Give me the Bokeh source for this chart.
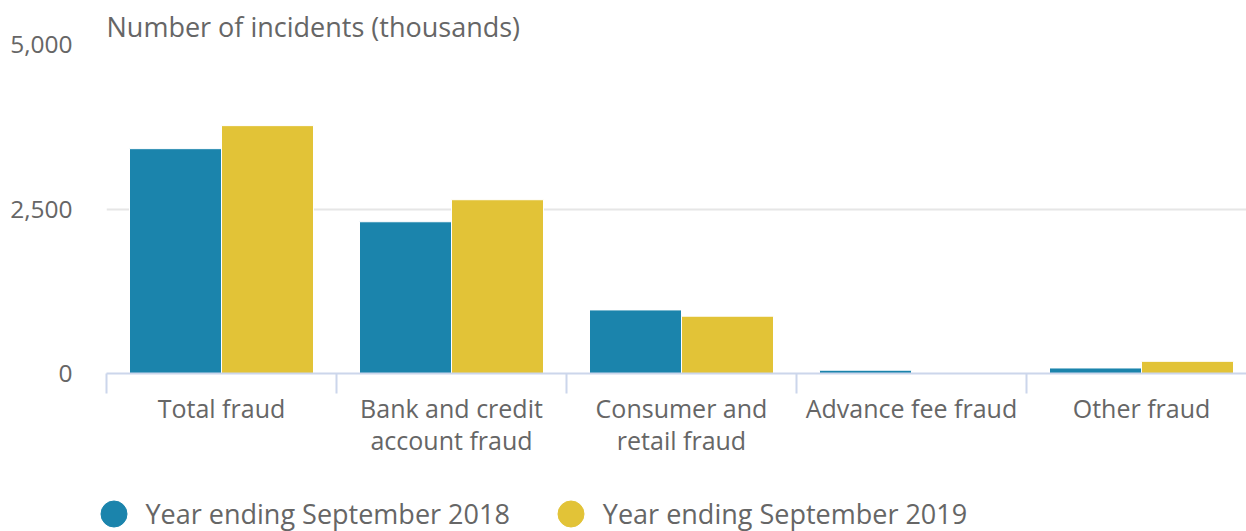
from bokeh.plotting import figure
from bokeh.layouts import column, row
from bokeh.models import (Range1d, FixedTicker, NumeralTickFormatter, Title,
                          Legend, LegendItem, ColumnDataSource)
from bokeh.embed import file_html
from bokeh.resources import INLINE

categories = ["Total fraud", "Bank and credit\naccount fraud", "Consumer and\nretail fraud",
              "Advance fee fraud", "Other fraud"]
series_names = ["Year ending September 2018", "Year ending September 2019"]
values_2018 = [3417, 2306, 966, 50, 84]
values_2019 = [3767, 2641, 871, 0, 185]
y_ticks = [0, 2500, 5000]
title_text = "Number of incidents (thousands)"

BLUE = "#1B84AC"
YELLOW = "#E2C337"
GREY = "#666666"
FONT = "Open Sans"

n = len(categories)
centers = [i + 0.5 for i in range(n)]

p = figure(width=1246, height=466, output_backend="svg", toolbar_location=None,
           x_range=Range1d(0, 1140 / 230), y_range=Range1d(0, 5000),
           min_border_left=106, min_border_right=0, min_border_top=44, min_border_bottom=93)
p.outline_line_color = None
p.background_fill_color = "white"

p.title = Title(text=title_text, align="left", offset=0, standoff=0,
                text_font=FONT, text_font_size="27px", text_color=GREY,
                text_font_style="normal")

src = ColumnDataSource(dict(
    x18=[c - 0.2 for c in centers], x19=[c + 0.2 for c in centers],
    v18=values_2018, v19=values_2019))
p.vbar(x="x18", top="v18", width=0.4, bottom=0, source=src,
       fill_color=BLUE, line_color="white", line_width=1)
p.vbar(x="x19", top="v19", width=0.4, bottom=0, source=src,
       fill_color=YELLOW, line_color="white", line_width=1)

# x axis
xa = p.xaxis[0]
xa.ticker = FixedTicker(ticks=centers, minor_ticks=list(range(n + 1)))
xa.major_label_overrides = {c: lab for c, lab in zip(centers, categories)}
xa.major_tick_line_color = None
xa.major_tick_out = 0
xa.major_tick_in = 0
xa.minor_tick_line_color = "#ccd6eb"
xa.minor_tick_line_width = 2
xa.minor_tick_out = 20
xa.minor_tick_in = 0
xa.axis_line_color = "#ccd6eb"
xa.axis_line_width = 2
xa.major_label_text_font = FONT
xa.major_label_text_font_size = "25px"
xa.major_label_text_color = GREY
xa.major_label_text_line_height = 0.97
xa.major_label_standoff = -3

# y axis
ya = p.yaxis[0]
ya.ticker = FixedTicker(ticks=y_ticks)
ya.formatter = NumeralTickFormatter(format="0,0")
ya.axis_line_color = None
ya.major_tick_line_color = None
ya.minor_tick_line_color = None
ya.major_tick_out = 0
ya.major_tick_in = 0
ya.major_label_text_font = FONT
ya.major_label_text_font_size = "24.5px"
ya.major_label_text_color = GREY
ya.major_label_standoff = 34

p.xgrid.grid_line_color = None
p.ygrid.ticker = FixedTicker(ticks=y_ticks)
p.ygrid.grid_line_color = "#e6e6e6"
p.ygrid.grid_line_width = 2

# separate strip for the legend (circle markers)
lg = figure(width=1246, height=65, output_backend="svg", toolbar_location=None,
            x_range=Range1d(0, 1), y_range=Range1d(0, 1),
            min_border=0, min_border_left=0, min_border_right=0,
            min_border_top=0, min_border_bottom=0,
            x_axis_location=None, y_axis_location=None)
lg.outline_line_color = None
lg.xgrid.visible = False
lg.ygrid.visible = False
r18 = lg.scatter(x=[-10], y=[-10], marker="circle", size=10, fill_color=BLUE, line_color=BLUE)
r19 = lg.scatter(x=[-10], y=[-10], marker="circle", size=10, fill_color=YELLOW, line_color=YELLOW)
legend = Legend(items=[LegendItem(label=series_names[0], renderers=[r18]),
                       LegendItem(label=series_names[1], renderers=[r19])],
                orientation="horizontal", location=(80.5, -15),
                glyph_width=65, glyph_height=65, label_standoff=0, spacing=28,
                padding=0, margin=0, border_line_color=None, background_fill_alpha=0,
                label_text_font=FONT, label_text_font_size="27px", label_text_color=GREY)
lg.add_layout(legend, "center")

layout = column(p, row(lg), spacing=0)
open("out.html", "w").write(file_html(layout, INLINE))
